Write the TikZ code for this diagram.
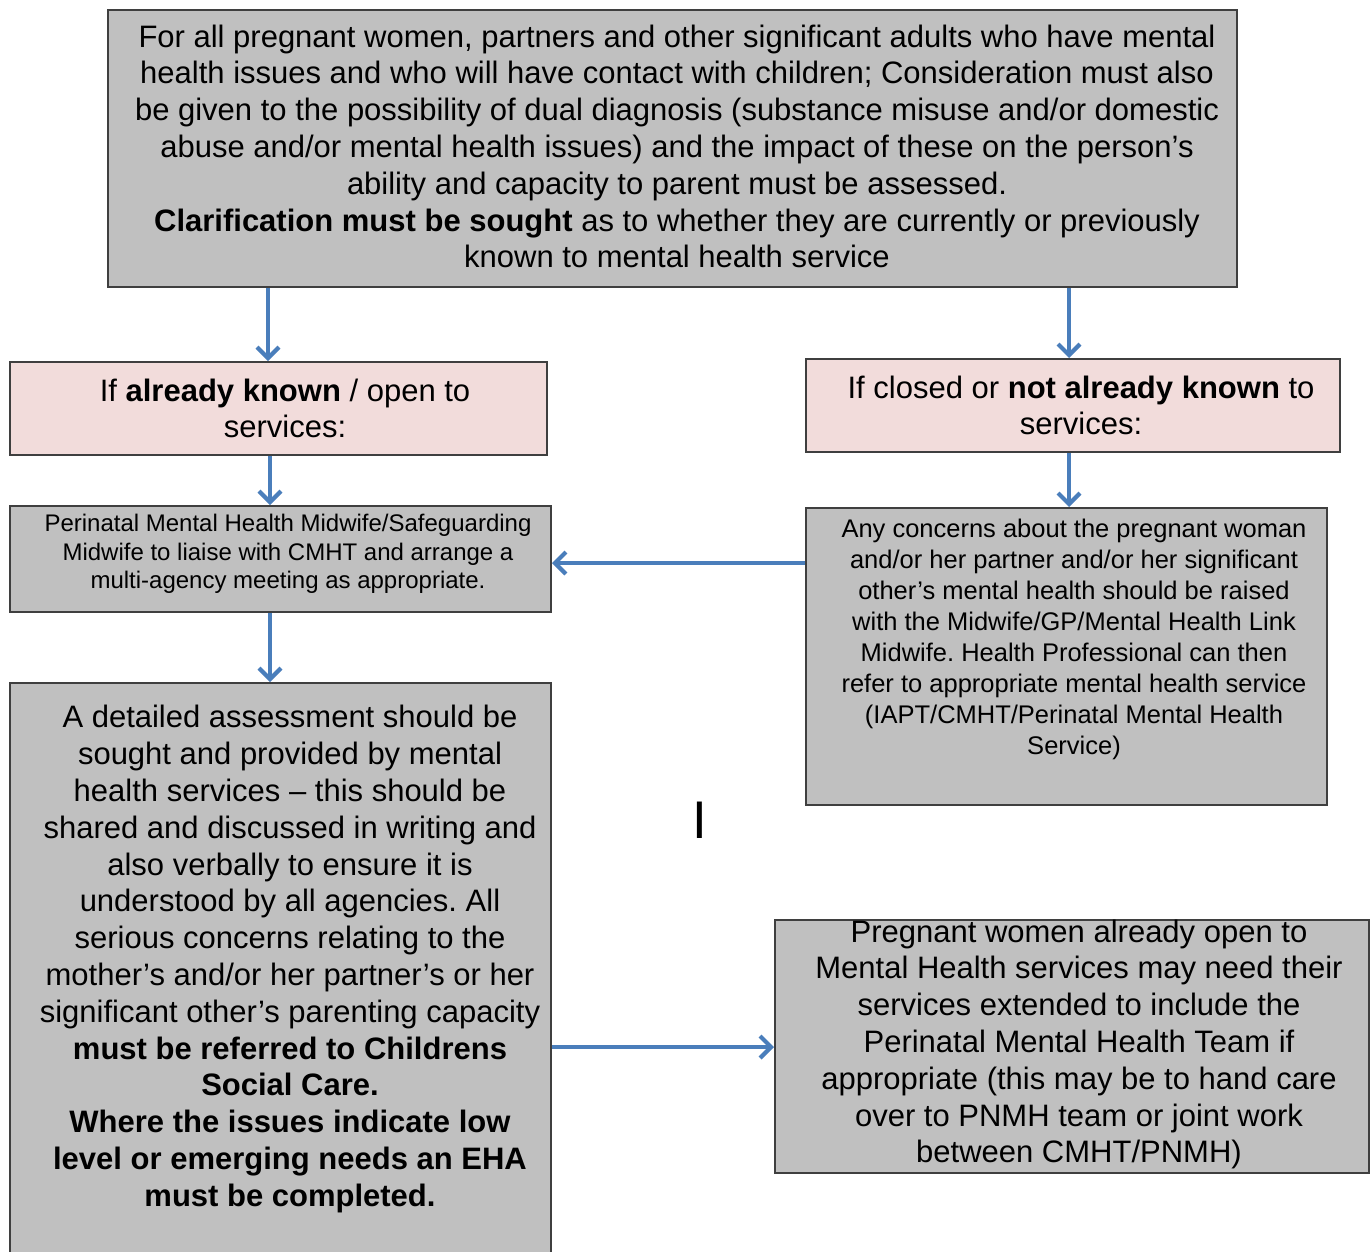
\documentclass[tikz,border=0pt]{standalone}
\usepackage{fontspec}
\setmainfont{Liberation Sans}
\usetikzlibrary{arrows.meta}
\definecolor{boxgray}{HTML}{C0C0C0}
\definecolor{boxpink}{HTML}{F2DCDB}
\definecolor{boxline}{HTML}{3F3F3F}
\definecolor{arrblue}{HTML}{4A7EBB}
\frenchspacing
\begin{document}
\begin{tikzpicture}[x=1pt,y=-1pt,
  box/.style={draw=boxline,line width=2pt,inner sep=0pt,rectangle},
  graybox/.style={box,fill=boxgray},
  pinkbox/.style={box,fill=boxpink},
  bigtext/.style={align=center,inner sep=0pt,font=\fontsize{31}{36.8}\selectfont},
  smalltext/.style={align=center,inner sep=0pt,font=\fontsize{24}{28.5}\selectfont},
  midtext/.style={align=center,inner sep=0pt,font=\fontsize{25.5}{31}\selectfont},
  arr/.style={draw=arrblue,line width=3.3pt,-{Straight Barb[length=11pt,width=22pt,line width=4.2pt]}}
]
\useasboundingbox (0,0) rectangle (1371,1251);
\clip (0,0) rectangle (1371,1251);
\fill[white] (0,0) rectangle (1371,1251);

% boxes
\node[graybox,minimum width=1129pt,minimum height=277pt] (top) at (672.5,148.5) {};
\node[pinkbox,minimum width=537pt,minimum height=93pt] (lpk) at (278.5,408.5) {};
\node[pinkbox,minimum width=534pt,minimum height=93pt] (rpk) at (1073,405.5) {};
\node[graybox,minimum width=541pt,minimum height=106pt] (lsm) at (280.5,559) {};
\node[graybox,minimum width=521pt,minimum height=297pt] (rgr) at (1066.5,656.5) {};
\node[graybox,minimum width=541pt,minimum height=579pt] (lbig) at (280.5,972.5) {};
\node[graybox,minimum width=594pt,minimum height=253pt] (rbot) at (1072,1046.5) {};

% texts
\node[bigtext] (toptext) at (677,146.5) {For all pregnant women, partners and other significant adults who have mental\\
health issues and who will have contact with children; Consideration must also\\
be given to the possibility of dual diagnosis (substance misuse and/or domestic\\
abuse and/or mental health issues) and the impact of these on the person’s\\
ability and capacity to parent must be assessed.\\
\textbf{Clarification must be sought} as to whether they are currently or previously\\
known to mental health service};

\node[bigtext] (lpktext) at (285,408.5) {If \textbf{already known} / open to\\services:};
\node[bigtext] (rpktext) at (1081,405.5) {If closed or \textbf{not already known} to\\services:};

\node[smalltext] (lsmtext) at (288,554) {Perinatal Mental Health Midwife/Safeguarding\\
Midwife to liaise with CMHT and arrange a\\
multi-agency meeting as appropriate.};

\node[midtext] (rgrtext) at (1074,639) {Any concerns about the pregnant woman\\
and/or her partner and/or her significant\\
other’s mental health should be raised\\
with the Midwife/GP/Mental Health Link\\
Midwife. Health Professional can then\\
refer to appropriate mental health service\\
(IAPT/CMHT/Perinatal Mental Health\\
Service)};

\node[bigtext] (lbigtext) at (290,959) {A detailed assessment should be\\
sought and provided by mental\\
health services -- this should be\\
shared and discussed in writing and\\
also verbally to ensure it is\\
understood by all agencies. All\\
serious concerns relating to the\\
mother’s and/or her partner’s or her\\
significant other’s parenting capacity\\
\textbf{must be referred to Childrens}\\
\textbf{Social Care.}\\
\textbf{Where the issues indicate low}\\
\textbf{level or emerging needs an EHA}\\
\textbf{must be completed.}};

\node[bigtext] (rbottext) at (1079,1044.5) {Pregnant women already open to\\
Mental Health services may need their\\
services extended to include the\\
Perinatal Mental Health Team if\\
appropriate (this may be to hand care\\
over to PNMH team or joint work\\
between CMHT/PNMH)};

\node[inner sep=0pt,font=\fontsize{53}{60}\selectfont] (cursor) at (699.5,820) {I};

% connectors
\coordinate (xa) at (268,0);
\coordinate (xb) at (1069,0);
\coordinate (xc) at (270,0);
\coordinate (ya) at (0,563);
\coordinate (yb) at (0,1047);
\draw[arr] (xa |- top.south) -- (xa |- lpk.north);
\draw[arr] (xb |- top.south) -- (xb |- rpk.north);
\draw[arr] (xc |- lpk.south) -- (xc |- lsm.north);
\draw[arr] (xb |- rpk.south) -- (xb |- rgr.north);
\draw[arr] (rgr.west |- ya) -- (lsm.east |- ya);
\draw[arr] (xc |- lsm.south) -- (xc |- lbig.north);
\draw[arr] (lbig.east |- yb) -- (rbot.west |- yb);
\end{tikzpicture}
\end{document}
